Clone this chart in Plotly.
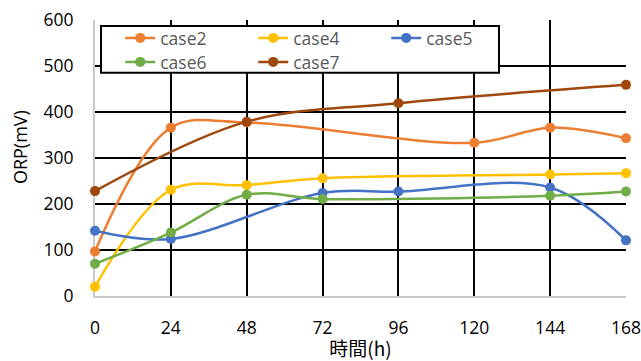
import plotly.graph_objects as go

# ORP measurements (mV) over elapsed time (h); each case was sampled at its own hours
hours_case2 = [0, 24, 48, 120, 144, 168]
orp_case2 = [97, 366, 377, 333, 366, 343]

hours_case4 = [0, 24, 48, 72, 144, 168]
orp_case4 = [20, 231, 241, 256, 264, 267]

hours_case5 = [0, 24, 72, 96, 144, 168]
orp_case5 = [142, 124, 224, 227, 236, 121]

hours_case6 = [0, 24, 48, 72, 144, 168]
orp_case6 = [70, 138, 220, 211, 218, 227]

hours_case7 = [0, 48, 96, 168]
orp_case7 = [228, 379, 419, 459]

x_ticks = [0, 24, 48, 72, 96, 120, 144, 168]
y_ticks = [0, 100, 200, 300, 400, 500, 600]

# (name, hours, values, colour, legend row)
series = [
    ("case2", hours_case2, orp_case2, "#ED7D31", "legend"),
    ("case4", hours_case4, orp_case4, "#FFC000", "legend"),
    ("case5", hours_case5, orp_case5, "#4472C4", "legend"),
    ("case6", hours_case6, orp_case6, "#70AD47", "legend2"),
    ("case7", hours_case7, orp_case7, "#9E480E", "legend2"),
]

FONT = "Open Sans"

fig = go.Figure()
for name, xs, ys, color, leg in series:
    fig.add_trace(go.Scatter(
        x=xs, y=ys, name=name, legend=leg,
        mode="lines+markers",
        line=dict(color=color, width=2.5, shape="spline", smoothing=1),
        marker=dict(color=color, size=10),
        cliponaxis=False,
    ))

# two legend rows sharing one framed box
row_style = dict(
    orientation="h", xanchor="left", yanchor="top",
    bgcolor="rgba(0,0,0,0)", borderwidth=0,
    font=dict(family=FONT, size=17.5, color="#595959"),
    entrywidth=88, entrywidthmode="pixels",
)

fig.update_layout(
    width=641, height=361,
    margin=dict(l=95, r=15, t=20, b=65, autoexpand=False),
    plot_bgcolor="white", paper_bgcolor="white",
    font=dict(family=FONT, size=17.5, color="#000000"),
    showlegend=True,
    legend=dict(x=0.0475, y=1.0, **row_style),
    legend2=dict(x=0.0475, y=0.913, **row_style),
    shapes=[dict(
        type="rect", xref="paper", yref="paper", layer="above",
        x0=0.0113, x1=0.7608, y0=0.8089, y1=0.9783,
        line=dict(color="#000000", width=2), fillcolor="white",
    )],
    xaxis=dict(
        range=[0, 168], tickvals=x_ticks, ticktext=[str(v) for v in x_ticks],
        showgrid=True, gridcolor="#000000", gridwidth=2,
        zeroline=False, showline=True, linecolor="#c8c8c8", linewidth=2,
        ticks="", ticklabelstandoff=15, ticklabeloverflow="allow",
        layer="below traces", automargin=False,
        title=dict(text="時間(h)", font=dict(family="Noto Sans CJK JP", size=19), standoff=2),
    ),
    yaxis=dict(
        range=[0, 600], tickvals=y_ticks, ticktext=[str(v) for v in y_ticks],
        showgrid=True, gridcolor="#000000", gridwidth=2,
        zeroline=False, showline=True, linecolor="#c8c8c8", linewidth=2,
        ticks="", ticklabelstandoff=16, layer="below traces", automargin=False,
    ),
    annotations=[dict(
        text="ORP(mV)", textangle=-90,
        xref="paper", yref="paper", x=-0.141, y=0.54,
        xanchor="center", yanchor="middle", showarrow=False,
        font=dict(family=FONT, size=18, color="#000000"),
    )],
)

fig.write_html("out.html")
